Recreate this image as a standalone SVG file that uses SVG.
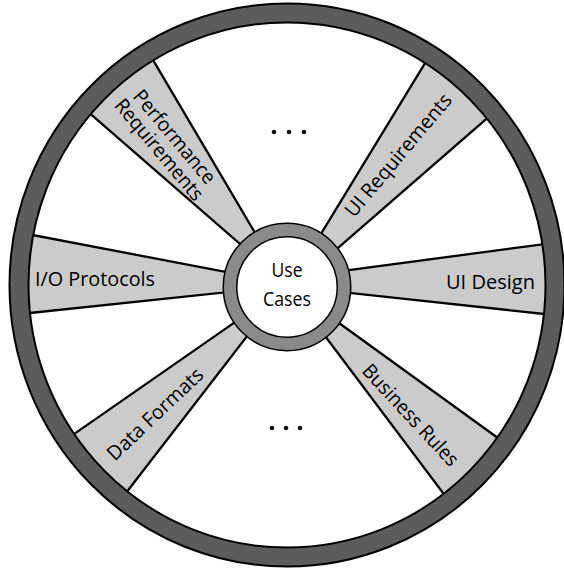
<svg xmlns="http://www.w3.org/2000/svg" width="564" height="569" viewBox="0 0 564 569">
  <style>
    .wedge { fill: #cbcbcb; stroke: #000; stroke-width: 2.3; stroke-linejoin: miter; }
    .lbl { font-family: "Open Sans", "Liberation Sans", sans-serif; font-size: 20px; fill: #000; }
    .dot { fill: #111; }
  </style>
  <defs>
    <clipPath id="inside">
      <ellipse cx="287" cy="285" rx="262" ry="266"/>
    </clipPath>
  </defs>
  <rect x="0" y="0" width="564" height="569" fill="#fff"/>

  <g id="spokes" clip-path="url(#inside)">
    <g id="spoke-performance">
      <polygon class="wedge" points="76.6,101.9 252.5,254.8 263.5,247.2 144.8,46.1"/>
    </g>
    <g id="spoke-ui-requirements">
      <polygon class="wedge" points="435.4,46.2 307.7,255.6 320.7,263 500.1,106.9"/>
    </g>
    <g id="spoke-io">
      <polygon class="wedge" points="15,231.6 240,274.7 240,290.8 12,314.9"/>
    </g>
    <g id="spoke-ui-design">
      <polygon class="wedge" points="330,272.7 565,241.3 565,316.2 330,290.8"/>
    </g>
    <g id="spoke-data-formats">
      <polygon class="wedge" points="54.5,447.6 249.7,311.9 258.9,320.9 113,509.8"/>
    </g>
    <g id="spoke-business-rules">
      <polygon class="wedge" points="314.7,322.3 458.3,513.3 518.6,453 325.5,313.3"/>
    </g>
  </g>

  <g id="rim">
    <ellipse cx="287" cy="285" rx="268" ry="272" fill="none" stroke="#000" stroke-width="21"/>
    <ellipse cx="287" cy="285" rx="268" ry="272" fill="none" stroke="#5c5c5c" stroke-width="17"/>
  </g>

  <g id="hub">
    <circle cx="287" cy="287" r="57" fill="#fff" stroke="#000" stroke-width="15"/>
    <circle cx="287" cy="287" r="57" fill="none" stroke="#8a8a8a" stroke-width="12"/>
    <text class="lbl" x="287" y="277" text-anchor="middle" textLength="31" lengthAdjust="spacingAndGlyphs">Use</text>
    <text class="lbl" x="287" y="306" text-anchor="middle" textLength="48" lengthAdjust="spacingAndGlyphs">Cases</text>
  </g>

  <g id="label-performance" transform="translate(166.25,143.75) rotate(50)">
    <text class="lbl" x="0" y="-4" text-anchor="middle" textLength="116" lengthAdjust="spacingAndGlyphs">Performance</text>
    <text class="lbl" x="0" y="16" text-anchor="middle" textLength="126" lengthAdjust="spacingAndGlyphs">Requirements</text>
  </g>
  <g id="label-ui-requirements" transform="translate(400,156.7) rotate(-50)">
    <text class="lbl" x="0" y="4.5" text-anchor="middle" textLength="154" lengthAdjust="spacingAndGlyphs">UI Requirements</text>
  </g>
  <g id="label-io">
    <text class="lbl" x="35" y="286" textLength="120" lengthAdjust="spacingAndGlyphs">I/O Protocols</text>
  </g>
  <g id="label-ui-design">
    <text class="lbl" x="446" y="289" textLength="89" lengthAdjust="spacingAndGlyphs">UI Design</text>
  </g>
  <g id="label-data-formats" transform="translate(155,414) rotate(-43.5)">
    <text class="lbl" x="0" y="7" text-anchor="middle" textLength="124" lengthAdjust="spacingAndGlyphs">Data Formats</text>
  </g>
  <g id="label-business-rules" transform="translate(410.7,415) rotate(47)">
    <text class="lbl" x="0" y="7" text-anchor="middle" textLength="131" lengthAdjust="spacingAndGlyphs">Business Rules</text>
  </g>

  <g id="ellipsis-top">
    <circle class="dot" cx="274" cy="132" r="2.3"/>
    <circle class="dot" cx="289" cy="132" r="2.3"/>
    <circle class="dot" cx="304" cy="132" r="2.3"/>
  </g>
  <g id="ellipsis-bottom">
    <circle class="dot" cx="272" cy="428" r="2.3"/>
    <circle class="dot" cx="286" cy="428" r="2.3"/>
    <circle class="dot" cx="300" cy="428" r="2.3"/>
  </g>
</svg>
